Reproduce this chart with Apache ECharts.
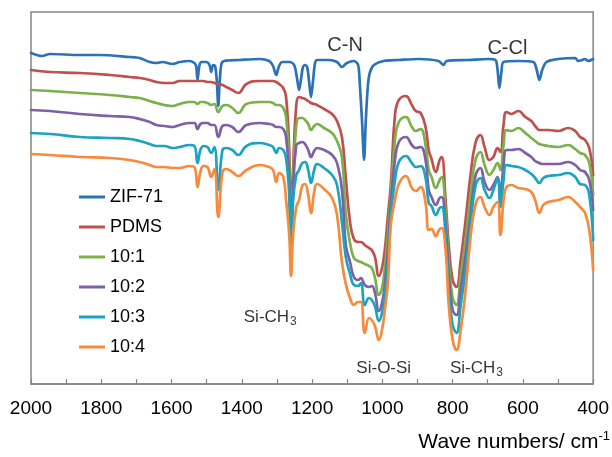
<!DOCTYPE html>
<html><head><meta charset="utf-8">
<script src="https://cdn.jsdelivr.net/npm/echarts@6/dist/echarts.min.js"></script>
<style>html,body{margin:0;padding:0;background:#fff}#c{width:612px;height:457px}</style>
</head><body><div id="c"></div>
<script>
// Wavenumbers (cm-1) shared by the PDMS-based spectra
const waveNumbers = [2000,1946,1861,1776,1719,1691,1662,1643,1620,1597,1577,1549,1535,1526,1518,1509,1498,1487,1478,1467,1455,1444,1427,1410,1387,1350,1322,1311,1302,1294,1282,1274,1265,1260,1254,1245,1237,1228,1220,1211,1203,1194,1186,1166,1143,1129,1115,1104,1092,1081,1069,1061,1050,1038,1030,1021,1010,1001,993,984,976,964,953,933,916,905,891,877,868,860,848,837,831,820,811,800,789,777,763,749,735,721,709,695,684,672,664,655,647,633,613,593,576,565,553,542,528,499,471,451,437,423,411,400];

// Offset transmittance (a.u.)
const pdms = [314,312,311,309,307,306,304,302,301,301, 303,303,303,303,303,303,302,302,301,300, 299,297,294,291,300,303,303,303,302,300, 296,287,234,149,214,279,287,286,285,283, 281,280,279,275,270,263,247,206,162,145, 142,142,139,136,134,127,108,116,134,169, 199,269,284,288,279,273,271,257,234,225, 212,224,227,184,139,104,97,124,164,209, 241,249,237,224,227,236,232,259,272,270, 273,267,263,258,254,254,254,253,256,253, 247,244,236,209];
const ratio10_1 = [294,293,291,289,287,286,283,281,279,278, 280,282,282,280,282,282,281,279,280,272, 278,279,276,271,280,282,282,281,279,279, 276,267,219,139,204,259,266,266,264,260, 254,258,260,256,251,243,227,170,141,126, 123,122,120,118,116,106,89,96,116,152, 189,244,262,267,257,253,255,239,214,207, 196,204,207,174,124,86,79,109,144,189, 224,232,219,209,214,221,214,239,254,253, 256,251,246,243,240,239,238,237,239,235, 231,229,221,189];
const ratio10_2 = [274,273,270,268,267,265,262,259,258,257, 259,261,261,255,260,261,261,259,259,247, 258,259,257,252,259,261,260,259,257,257, 255,247,204,129,194,239,241,242,240,234, 227,233,236,234,229,221,194,139,122,107, 104,106,99,97,98,91,73,81,99,134, 179,224,242,247,239,236,237,224,194,187, 179,186,187,159,109,74,69,94,129,169, 208,216,202,194,199,207,191,219,234,234, 235,231,227,223,221,220,220,220,222,219, 214,212,204,174];
const ratio10_3 = [251,250,247,246,245,243,240,238,238,236, 237,239,238,221,234,238,237,231,237,194, 234,236,234,229,238,241,239,237,231,236, 234,226,189,119,184,209,214,221,222,214, 201,214,220,216,209,199,162,127,110,99, 98,101,79,86,84,78,63,71,89,119, 169,204,222,228,221,217,218,206,181,178, 169,176,177,149,94,59,51,79,114,159, 198,206,194,186,194,206,177,204,219,218, 217,214,210,206,201,206,208,209,211,207, 200,199,189,144];
const ratio10_4 = [230,229,227,226,224,222,219,217,217,216, 216,218,217,197,212,218,217,207,215,167, 212,215,212,208,214,219,217,214,202,211, 207,184,149,108,149,177,184,198,200,189, 171,192,200,195,186,169,122,100,86,79, 82,82,51,66,64,58,44,54,74,102, 159,184,200,208,196,193,197,181,154,155, 148,155,156,134,79,44,34,54,94,147, 179,187,177,169,177,182,149,184,197,199, 196,195,192,184,171,179,182,184,187,182, 177,171,154,114];

// ZIF-71 spectrum: [wavenumber, offset transmittance]
const zif71 = [[2000,331],[1969,328],[1946,330],[1861,329],[1804,329],[1719,327],[1691,326],[1662,322],[1643,321],[1626,322],[1597,320],[1577,322],[1549,323],[1535,321],[1530,318],[1526,304],[1521,318],[1515,322],[1501,322],[1492,319],[1487,312],[1482,319],[1476,318],[1471,302],[1467,278],[1463,302],[1458,320],[1450,323],[1407,324],[1350,325],[1322,323],[1311,318],[1302,309],[1294,318],[1285,322],[1265,322],[1251,319],[1243,306],[1237,294],[1231,306],[1226,317],[1220,319],[1214,317],[1209,304],[1203,287],[1197,304],[1192,320],[1186,324],[1152,324],[1129,322],[1115,317],[1101,321],[1081,323],[1069,319],[1064,299],[1058,264],[1052,224],[1047,264],[1041,299],[1035,312],[1024,319],[996,323],[953,324],[896,325],[840,323],[826,319],[817,323],[755,324],[698,325],[678,324],[672,314],[667,296],[661,312],[655,322],[613,323],[570,322],[562,316],[553,304],[545,314],[533,322],[499,325],[451,326],[443,323],[431,324],[423,325],[414,323],[400,325]];

const seriesNames = ['ZIF-71','PDMS','10:1','10:2','10:3','10:4'];
const seriesColors = ['#2C73B5','#C0504D','#7BB04A','#7F5FA6','#1BA3C0','#F78A3C'];

// Band annotations
const annotationText = ['{b|C-N}','{b|C-Cl}','{a|Si-CH}{s|3}','{a|Si-O-Si}','{a|Si-CH}{s|3}'];
const annotationWn = [1106,644,1319,996,732];
const annotationY = [339,336,67,16,16];

const FONT = '"Liberation Sans", Arial, sans-serif';
const chart = echarts.init(document.getElementById('c'));

const lineData = [
  zif71,
  waveNumbers.map((w,i)=>[w,pdms[i]]),
  waveNumbers.map((w,i)=>[w,ratio10_1[i]]),
  waveNumbers.map((w,i)=>[w,ratio10_2[i]]),
  waveNumbers.map((w,i)=>[w,ratio10_3[i]]),
  waveNumbers.map((w,i)=>[w,ratio10_4[i]])
];

const series = lineData.map((d,i)=>({
  name: seriesNames[i], type:'line', data:d, showSymbol:false, symbol:'none',
  smooth: i===0 ? 0.3 : 0.45,
  lineStyle:{color:seriesColors[i], width:2.7, join:'round', cap:'round'}, itemStyle:{color:seriesColors[i]},
  z: 2+i
}));

series.push({
  name:'annotations', type:'scatter', silent:true, symbolSize:1,
  itemStyle:{color:'rgba(0,0,0,0)'}, z:20,
  data: annotationText.map((t,i)=>({value:[annotationWn[i], annotationY[i]], name:t})),
  label:{show:true, position:'inside', formatter:p=>p.name, color:'#000', fontFamily:FONT,
    rich:{
      a:{fontSize:17, fontFamily:FONT, color:'#000', lineHeight:22},
      b:{fontSize:20, fontFamily:FONT, color:'#000', lineHeight:24},
      s:{fontSize:12, fontFamily:FONT, color:'#000', verticalAlign:'bottom', lineHeight:12, padding:[0,0,0,1]}
    }}
});

chart.setOption({
  animation:false,
  backgroundColor:'#fff',
  grid:{left:31,right:17,top:12,bottom:73,show:true,borderColor:'#858585',borderWidth:1.5},
  xAxis:{type:'value',min:400,max:2000,interval:100,inverse:true,
    axisLine:{show:true,lineStyle:{color:'#858585',width:1.5}},
    axisTick:{show:true,inside:true,length:5,lineStyle:{color:'#858585',width:1.2}},
    axisLabel:{margin:15,fontSize:19,color:'#000',fontFamily:FONT,showMinLabel:true,showMaxLabel:true,
      formatter:v=> (v%200===0 ? String(v) : '')},
    splitLine:{show:false}},
  yAxis:{type:'value',min:0,max:372,show:false},
  legend:{data:seriesNames, orient:'vertical', left:79, top:188, padding:0,
    itemWidth:26, itemHeight:3, itemGap:12, icon:'rect',
    textStyle:{fontSize:18, fontFamily:FONT, color:'#000'}},
  graphic:[{type:'text', right:2, top:430, silent:true,
    style:{text:'Wave numbers/ cm{sup|-1}', fontSize:21, fontFamily:FONT, fill:'#000',
      lineHeight:24,
      rich:{sup:{fontSize:13, fontFamily:FONT, fill:'#000', verticalAlign:'top', lineHeight:12}}}}],
  series: series
});
</script></body></html>
